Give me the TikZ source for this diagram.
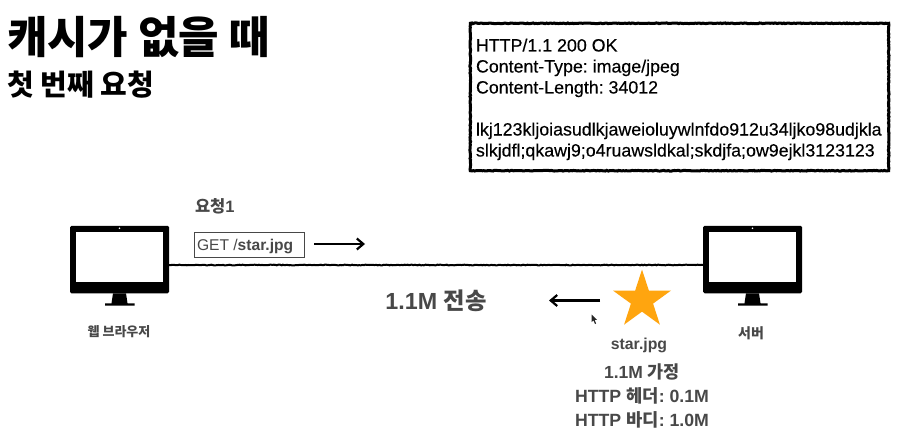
\documentclass[tikz,border=0pt]{standalone}
\usepackage{fontspec}
\setmainfont{Liberation Sans}
\newfontfamily\krfont{Noto Sans CJK KR}
\newfontfamily\medfont[FakeBold=0.3]{Liberation Sans}
\usetikzlibrary{arrows.meta,shapes.geometric,decorations.pathmorphing}
\definecolor{txtgray}{HTML}{484848}
\definecolor{staror}{HTML}{FFA50F}
\newcommand{\Krb}[1]{{\krfont\bfseries #1}}
\newcommand{\fs}[1]{\fontsize{#1}{#1}\selectfont}
\newcommand{\monitor}[2]{%
  \node[monbody] (#1) at (#2) {};
  \fill[white] ([shift={(6pt,-6.5pt)}]#1.north west) rectangle ([shift={(-6pt,11pt)}]#1.south east);
  \fill[white] ([yshift=-2.5pt]#1.north) circle (0.8pt);
  \fill[black] ([xshift=-6.5pt]#1.south) -- ([xshift=6.5pt]#1.south) -- ([shift={(8pt,-10pt)}]#1.south) -- ([shift={(15pt,-10pt)}]#1.south) -- ([shift={(15pt,-12.3pt)}]#1.south) -- ([shift={(-14.5pt,-12.3pt)}]#1.south) -- ([shift={(-14.5pt,-10pt)}]#1.south) -- ([shift={(-8pt,-10pt)}]#1.south) -- cycle;
}
\tikzset{
  x=1pt,y=-1pt,
  lbl/.style={inner sep=0pt,outer sep=0pt,anchor=base,text=txtgray,font=\bfseries},
  txt/.style={inner sep=0pt,outer sep=0pt,anchor=base west,text=black},
  monbody/.style={fill=black,rounded corners=1.5pt,minimum width=99pt,minimum height=67.5pt,inner sep=0pt,outer sep=0pt},
  rough/.style={decorate,decoration={random steps,segment length=1.5pt,amplitude=0.35pt}},
  wire/.style={rough,draw=black,line width=2pt},
  flow/.style={draw=black,line width=2.2pt,-{Straight Barb[length=6.5pt,width=11pt,line width=2.2pt]}},
}
\begin{document}
\frenchspacing
\begin{tikzpicture}
\useasboundingbox[fill=white] (0,0) rectangle (923,441);
% titles
\node[txt,anchor=base west] (title) at (7,54) {\fs{44}\Krb{캐시가 없을 때}};
\node[txt,anchor=base west] (sub) at (7,96) {\fs{29}\Krb{첫 번째 요청}};
% response box
\node[draw=none,minimum width=418pt,minimum height=147pt,inner sep=0pt] (resp) at (679.5,97) {};
\draw[rough,draw=black,line width=3pt] (resp.north west) rectangle (resp.south east);
\node[txt] (r1) at (476,51.5) {\fs{17.8}\medfont HTTP/1.1 200 OK};
\node[txt] (r2) at (476,72.5) {\fs{17.8}\medfont Content-Type: image/jpeg};
\node[txt] (r3) at (476,93.5) {\fs{17.8}\medfont Content-Length: 34012};
\node[txt] (r4) at (476,135.5) {\fs{17.8}\medfont lkj123kljoiasudlkjaweioluywlnfdo912u34ljko98udjkla};
\node[txt] (r5) at (476,156.5) {\fs{17.8}\medfont slkjdfl;qkawj9;o4ruawsldkal;skdjfa;ow9ejkl3123123};
% monitors
\monitor{browser}{119.5,259.5}
\monitor{server}{752.5,259.5}
\draw[wire] ([yshift=-5.5pt]browser.east) -- ([yshift=-5.5pt]server.west);
\node[lbl] (bl) at (119,336) {\fs{13}\Krb{웹 브라우저}};
\node[lbl] (sl) at (751,338) {\fs{14}\Krb{서버}};
% request
\node[lbl,anchor=base west] (req) at (195,212) {\fs{16.5}\Krb{요청}1};
\node[draw=txtgray,line width=1pt,minimum width=110pt,minimum height=25pt,inner sep=0pt,outer sep=0pt] (get) at (249,244.5) {};
\node[txt,text=txtgray] (gettxt) at (197,250) {\fs{15.6}GET /\textbf{star.jpg}};
\coordinate (a1s) at (314,244);
\coordinate (a1e) at (365,244);
\draw[flow] (a1s) -- (a1e);
% response flow
\node[lbl] (size) at (436,309) {\fs{23.3}1.1M \Krb{전송}};
\coordinate (a2s) at (600,300.5);
\coordinate (a2e) at (549,300.5);
\draw[flow] (a2s) -- (a2e);
\node[star,star points=5,star point ratio=2.618,fill=staror,minimum size=61pt,inner sep=0pt] (star) at (642,300) {};
\node[lbl] (sj) at (639,349) {\fs{15.8}star.jpg};
\node[lbl] (a) at (642,378.5) {\fs{17.5}1.1M \Krb{가정}};
\node[lbl] (b) at (642,402) {\fs{17.7}HTTP \Krb{헤더}: 0.1M};
\node[lbl] (c) at (642,426) {\fs{17.7}HTTP \Krb{바디}: 1.0M};
% pointer
\fill[black!85] (591.5,314.5) -- (591.5,322) -- (593.5,320.5) -- (595,324) -- (596,323.5) -- (594.8,320) -- (597,319.8) -- cycle;
\end{tikzpicture}
\end{document}
